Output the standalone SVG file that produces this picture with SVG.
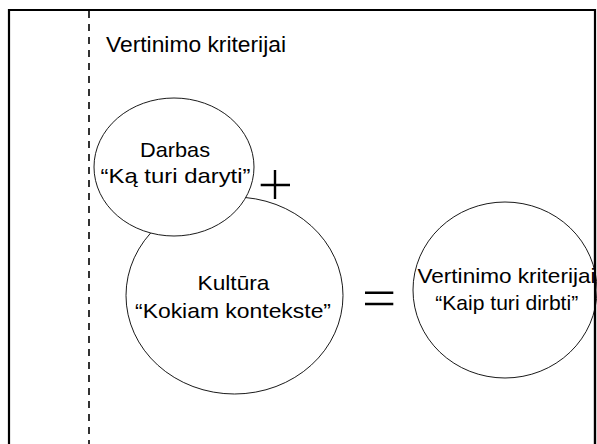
<svg xmlns="http://www.w3.org/2000/svg" width="597" height="444" viewBox="0 0 597 444">
<style>
  .frame { fill: none; stroke: #000; stroke-width: 2.2; }
  .divider { fill: none; stroke: #000; stroke-width: 1.6; stroke-dasharray: 7 6; }
  .bubble { fill: #fff; stroke: #000; stroke-width: 0.9; }
  .lbl { font-family: "Liberation Sans", Arial, sans-serif; font-size: 21px; fill: #000; text-anchor: middle; }
  .title { font-family: "Liberation Sans", Arial, sans-serif; font-size: 21.5px; fill: #000; }
  .op { fill: none; stroke: #000; stroke-width: 2.4; }
</style>
<rect width="597" height="444" fill="#fff"/>
<path class="frame" d="M9,444 V10 H595 V444"/>
<line class="divider" x1="89" y1="11" x2="89" y2="444"/>
<text class="title" x="106" y="52" textLength="180" lengthAdjust="spacingAndGlyphs">Vertinimo kriterijai</text>

<g id="kultura">
  <ellipse class="bubble" cx="234.5" cy="295.5" rx="108.5" ry="98.5"/>
  <text class="lbl" x="233.5" y="290" textLength="72" lengthAdjust="spacingAndGlyphs">Kultūra</text>
  <text class="lbl" x="233" y="317.5" textLength="196" lengthAdjust="spacingAndGlyphs">“Kokiam kontekste”</text>
</g>

<g id="darbas">
  <ellipse class="bubble" cx="174" cy="167" rx="80" ry="69"/>
  <text class="lbl" x="175" y="156.7" textLength="70" lengthAdjust="spacingAndGlyphs">Darbas</text>
  <text class="lbl" x="175.5" y="183.3" textLength="150" lengthAdjust="spacingAndGlyphs">“Ką turi daryti”</text>
</g>

<g id="vertinimo">
  <ellipse class="bubble" cx="505" cy="290" rx="92" ry="88"/>
  <text class="lbl" x="506.5" y="283.3" textLength="178" lengthAdjust="spacingAndGlyphs">Vertinimo kriterijai</text>
  <text class="lbl" x="506.7" y="310" textLength="143" lengthAdjust="spacingAndGlyphs">“Kaip turi dirbti”</text>
</g>
<line x1="595" y1="200" x2="595" y2="444" class="frame"/>

<g id="operators">
  <path class="op" d="M260.7,185 H290 M275,170 V199"/>
  <path class="op" d="M365,292.7 H393.3 M365,304 H393.3"/>
</g>
</svg>
